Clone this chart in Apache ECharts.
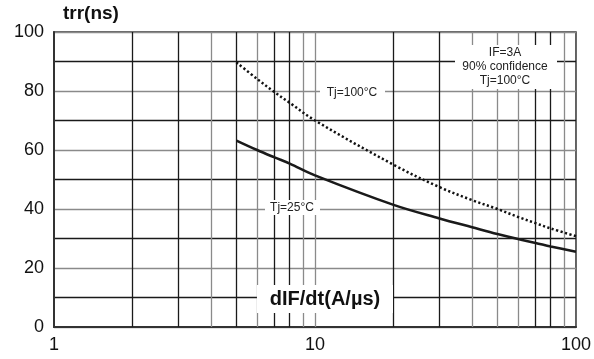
<!DOCTYPE html>
<html><head><meta charset="utf-8">
<script src="https://cdn.jsdelivr.net/npm/echarts@6/dist/echarts.min.js"></script>
<style>html,body{margin:0;padding:0;background:#fff}#c{width:594px;height:359px}</style>
</head><body><div id="c"></div>
<script>
const yTicks = [0, 20, 40, 60, 80, 100];
const xTickLabels = [1, 10, 100];
const xGridBlack = [2, 3, 5, 7, 8, 20, 30, 70, 80];
const xGridGray = [4, 6, 9, 10, 40, 50, 60, 90];
const tj100 = [[5,89.7],[6,84.1],[7,79.6],[8,76],[10,70],[20,55],[30,47.4],[40,43],[50,40],[60,37.3],[70,35.2],[80,33.4],[100,30.8]];
const tj25 = [[5,63.2],[6,60],[7,57.5],[8,55.4],[10,51.4],[20,41.4],[30,36.8],[40,33.8],[50,31.5],[60,29.8],[70,28.5],[80,27.3],[100,25.5]];

const FONT = 'Liberation Sans, Arial, sans-serif';
const chart = echarts.init(document.getElementById('c'));
const gridLines = xGridBlack.map(v => ({xAxis: v, lineStyle: {color: '#1a1a1a'}}))
  .concat(xGridGray.map(v => ({xAxis: v, lineStyle: {color: '#8a8a8a'}})));
chart.setOption({
  animation: false,
  grid: {left: 54, right: 18, top: 32, bottom: 32, show: true, borderColor: '#333', borderWidth: 1.5},
  xAxis: {
    type: 'log', logBase: 10, min: 1, max: 100,
    axisLine: {show: true, lineStyle: {color: '#333', width: 2}},
    axisTick: {show: false},
    splitLine: {show: false},
    axisLabel: {fontFamily: FONT, fontSize: 18, color: '#111', margin: 9,
      formatter: v => xTickLabels.includes(Math.round(v)) ? String(Math.round(v)) : ''}
  },
  yAxis: {
    type: 'value', min: 0, max: 100, interval: 10,
    axisLine: {show: true, lineStyle: {color: '#333', width: 2}},
    axisTick: {show: false},
    splitLine: {show: true, lineStyle: {color: ['#8a8a8a', '#1a1a1a'], width: 1.3}},
    axisLabel: {fontFamily: FONT, fontSize: 18, color: '#111', margin: 10,
      formatter: v => yTicks.includes(v) ? String(v) : ''}
  },
  series: [
    {type: 'line', data: [], z: 1,
     markLine: {silent: true, symbol: 'none', label: {show: false},
       lineStyle: {type: 'solid', width: 1.3}, data: gridLines}},
    {type: 'line', data: tj100, smooth: 0.35, showSymbol: false, z: 5,
     lineStyle: {color: '#111', width: 2.5, type: [2.2, 2.4]}},
    {type: 'line', data: tj25, smooth: 0.35, showSymbol: false, z: 5,
     lineStyle: {color: '#1a1a1a', width: 2.6}}
  ],
  graphic: [
    {type: 'text', left: 63, top: 4, z: 100,
     style: {text: 'trr(ns)', font: 'bold 19px ' + FONT, fill: '#111'}},
    {type: 'rect', shape: {x: 257, y: 285, width: 136, height: 28}, z: 99, style: {fill: '#fff'}},
    {type: 'text', x: 325, y: 299, z: 100,
     style: {text: 'dIF/dt(A/µs)', font: 'bold 20px ' + FONT, fill: '#111', align: 'center', verticalAlign: 'middle'}},
    {type: 'rect', shape: {x: 320, y: 85, width: 65, height: 15}, z: 99, style: {fill: '#fff'}},
    {type: 'text', x: 352, y: 93, z: 100,
     style: {text: 'Tj=100°C', font: '12px ' + FONT, fill: '#222', align: 'center', verticalAlign: 'middle'}},
    {type: 'rect', shape: {x: 265, y: 200, width: 55, height: 15}, z: 99, style: {fill: '#fff'}},
    {type: 'text', x: 292, y: 208, z: 100,
     style: {text: 'Tj=25°C', font: '12px ' + FONT, fill: '#222', align: 'center', verticalAlign: 'middle'}},
    {type: 'rect', shape: {x: 455, y: 45, width: 102, height: 44}, z: 99, style: {fill: '#fff'}},
    {type: 'text', x: 505, y: 67, z: 100,
     style: {text: 'IF=3A\n90% confidence\nTj=100°C', font: '12px ' + FONT, lineHeight: 14, fill: '#222', align: 'center', verticalAlign: 'middle'}}
  ]
});
</script></body></html>
